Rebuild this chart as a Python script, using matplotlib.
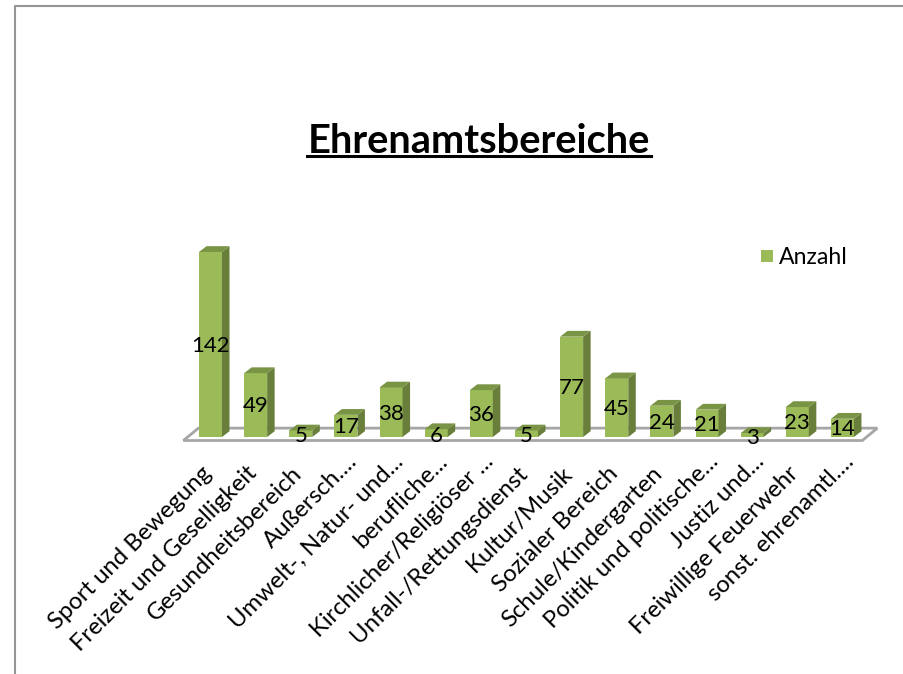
import matplotlib
matplotlib.use('Agg')
import matplotlib.pyplot as plt
from matplotlib.patches import Polygon
from matplotlib.transforms import ScaledTranslation

categories = ['Sport und Bewegung', 'Freizeit und Geselligkeit', 'Gesundheitsbereich', 'Außersch....',
              'Umwelt-, Natur- und...', 'berufliche...', 'Kirchlicher/Religiöser ...', 'Unfall-/Rettungsdienst',
              'Kultur/Musik', 'Sozialer Bereich', 'Schule/Kindergarten', 'Politik und politische...',
              'Justiz und...', 'Freiwillige Feuerwehr', 'sonst. ehrenamtl....']
values = [142, 49, 5, 17, 38, 6, 36, 5, 77, 45, 24, 21, 3, 23, 14]
series_name = 'Anzahl'
title = 'Ehrenamtsbereiche'

W, H = 904, 674
plt.rcParams['font.family'] = ['Lato', 'DejaVu Sans']
fig = plt.figure(figsize=(W / 100, H / 100), dpi=100)
fig.patch.set_facecolor('white')

# page frame
bg = fig.add_axes([0, 0, 1, 1])
bg.set_xlim(0, W); bg.set_ylim(H, 0); bg.axis('off')
bg.plot([15.5, 15.5, W], [H, 6, 6], color='#969696', lw=1.5, solid_capstyle='butt')
bg.text(478.5, 141.5, title, fontsize=28.7, fontweight='bold', ha='center', va='center', color='black')
bg.plot([307, 651], [156, 156], color='black', lw=2.2)
bg.add_patch(plt.Rectangle((761, 250), 12, 12, color='#9BBB59', lw=0))
bg.text(779, 257, series_name, fontsize=16.6, ha='left', va='center', color='black')

# plot axes: x unit = one category step, y unit = one count
step = 45.14
ppu = 1.303
x0, base = 210.5, 437
left, right, top, bottom = 170, 890, 235, 450
ax = fig.add_axes([left / W, 1 - bottom / H, (right - left) / W, (bottom - top) / H])
ax.set_xlim((left - x0) / step, (right - x0) / step)
ax.set_ylim((base - bottom) / ppu, (base - top) / ppu)
ax.patch.set_alpha(0)
for s in ax.spines.values():
    s.set_visible(False)

bw = 23 / step
dx = 7.5 / step
dy = 5.8 / ppu

# floor
fl, fr = -0.6, 14.44
ax.add_patch(Polygon([(fl, -2.7), (fr, -2.7), (fr + 15 / step, 6.8), (fl + 15 / step, 6.8)],
                     closed=True, fc='white', ec='#A6A6A6', lw=2, zorder=1))

for i, v in enumerate(values):
    l, r = i - bw / 2, i + bw / 2
    ax.bar(i, v, width=bw, color='#9BBB59', lw=0, zorder=3 + i)
    ax.add_patch(Polygon([(r, 0), (r + dx, dy), (r + dx, v + dy), (r, v)], closed=True,
                         fc='#687E3A', lw=0, zorder=3 + i))
    ax.add_patch(Polygon([(l, v), (r, v), (r + dx, v + dy), (l + dx, v + dy)], closed=True,
                         fc='#7A9445', lw=0, zorder=3 + i))
    ypos = v / 2 - 1 if v > 10 else v / 2 - 2
    ax.text(i, ypos, str(v), fontsize=16, ha='center', va='center', color='black', zorder=30)

ax.set_xticks(range(len(categories)))
ax.set_xticklabels(categories, rotation=45, ha='right', va='top', rotation_mode='anchor', fontsize=17.2)
ax.tick_params(axis='x', length=0, pad=9)
ax.set_yticks([])
for lab in ax.get_xticklabels():
    truncated = lab.get_text().endswith('.')
    ox, oy = (1, 12) if truncated else (-10, 0)
    lab.set_transform(lab.get_transform() + ScaledTranslation(ox / 100, oy / 100, fig.dpi_scale_trans))

fig.savefig('out.png', dpi=100)
